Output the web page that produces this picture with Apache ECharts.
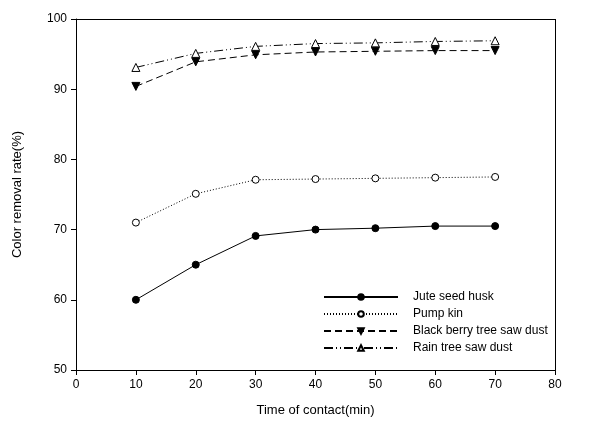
<!DOCTYPE html>
<html>
<head>
<meta charset="utf-8">
<script src="https://cdn.jsdelivr.net/npm/echarts@6/dist/echarts.min.js"></script>
<style>html,body{margin:0;padding:0;background:#fff}#chart{width:589px;height:427px}</style>
</head>
<body>
<div id="chart"></div>
<script>
var times = [10, 20, 30, 40, 50, 60, 70];
var jute = [60, 65, 69.1, 70, 70.2, 70.5, 70.5];
var pumpkin = [71, 75.1, 77.1, 77.2, 77.3, 77.4, 77.5];
var blackberry = [90.4, 93.9, 94.9, 95.3, 95.4, 95.5, 95.5];
var raintree = [93.1, 95.1, 96.1, 96.5, 96.6, 96.8, 96.9];

var pairs = function (ys) {
	var res = [];
	for (var i = 0; i < times.length; i++) {
		res.push([times[i], ys[i]]);
	}
	return res;
};

var font = 'Liberation Sans, Arial, sans-serif';
var myChart = echarts.init(document.getElementById('chart'));
var line = function (name, ys, symbol, fill, dash) {
	return {
		name: name,
		type: 'line',
		data: pairs(ys),
		symbol: symbol,
		symbolSize: symbol === 'triangle' ? 8 : 7,
		symbolRotate: name === 'Black berry tree saw dust' ? 180 : 0,
		showAllSymbol: true,
		animation: false,
		lineStyle: {color: '#000', width: 1, type: dash},
		itemStyle: {color: fill, borderColor: '#000', borderWidth: 1}
	};
};

var option = {
	backgroundColor: '#fff',
	grid: {left: 76, right: 34, top: 19, bottom: 57},
	legend: {
		orient: 'vertical',
		left: 318,
		top: 286,
		itemWidth: 74,
		itemHeight: 7,
		itemGap: 5,
		textStyle: {fontFamily: font, fontSize: 12, color: '#000', padding: [0, 0, 0, 10]},
		data: ['Jute seed husk', 'Pump kin', 'Black berry tree saw dust', 'Rain tree saw dust']
	},
	xAxis: {
		type: 'value',
		min: 0, max: 80, interval: 10,
		name: 'Time of contact(min)',
		nameLocation: 'middle',
		nameGap: 34,
		nameTextStyle: {fontFamily: font, fontSize: 13, color: '#000'},
		axisLine: {lineStyle: {color: '#000', width: 1}},
		axisTick: {inside: false, length: 5, lineStyle: {color: '#000'}},
		axisLabel: {fontFamily: font, fontSize: 12, color: '#000', margin: 9},
		splitLine: {show: false}
	},
	yAxis: {
		type: 'value',
		min: 50, max: 100, interval: 10,
		name: 'Color removal rate(%)',
		nameLocation: 'middle',
		nameGap: 52,
		nameTextStyle: {fontFamily: font, fontSize: 13, color: '#000'},
		axisLine: {lineStyle: {color: '#000', width: 1}},
		axisTick: {inside: false, length: 5, lineStyle: {color: '#000'}},
		axisLabel: {fontFamily: font, fontSize: 12, color: '#000', margin: 9},
		splitLine: {show: false}
	},
	series: [
		line('Jute seed husk', jute, 'circle', '#000', 'solid'),
		line('Pump kin', pumpkin, 'circle', '#fff', [1, 2]),
		line('Black berry tree saw dust', blackberry, 'triangle', '#000', [7, 4]),
		line('Rain tree saw dust', raintree, 'triangle', '#fff', [9, 3, 1, 3, 1, 3]),
		{ // 外框
			type: 'line',
			data: [],
			markLine: {
				silent: true,
				symbol: 'none',
				animation: false,
				label: {show: false},
				lineStyle: {color: '#000', width: 1, type: 'solid'},
				data: [
					[{coord: [0, 100]}, {coord: [80, 100]}],
					[{coord: [80, 50]}, {coord: [80, 100]}]
				]
			}
		}
	]
};
myChart.setOption(option);
</script>
</body>
</html>
